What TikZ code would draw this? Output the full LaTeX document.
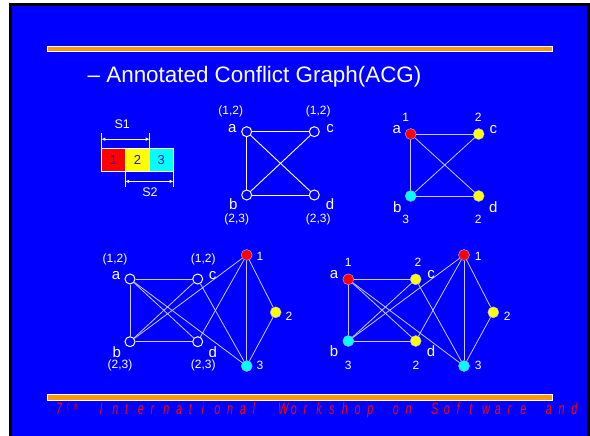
\documentclass[tikz,border=0pt]{standalone}
\usepackage{fontspec}
\setmainfont{Liberation Sans}
\usepackage{graphicx}
\usetikzlibrary{arrows.meta}
\definecolor{bg}{RGB}{0,0,255}
\definecolor{orng}{RGB}{255,153,0}
\definecolor{numblue}{RGB}{20,20,190}
\definecolor{cred}{RGB}{255,0,0}
\definecolor{cyel}{RGB}{255,255,0}
\definecolor{ccyan}{RGB}{0,255,255}
\newcommand{\ftc}[1]{\scalebox{0.66}[1]{#1}}
\begin{document}
\begin{tikzpicture}[x=1pt,y=-1pt,
  hollow/.style={circle,draw=white,line width=1pt,fill=bg,minimum size=10pt,inner sep=0pt},
  colnode/.style={circle,draw=white!70!bg,line width=0.4pt,fill=#1,minimum size=11pt,inner sep=0pt},
  lbl/.style={text=white,font=\fontsize{15}{15}\selectfont,inner sep=0pt},
  ann/.style={text=white,font=\fontsize{12}{12}\selectfont,inner sep=0pt},
  edge/.style={draw=white,line width=0.9pt},
  ledge/.style={draw=white!80!bg,line width=0.8pt},
  cbox/.style={draw=white,line width=0.8pt,fill=#1,minimum width=23.8pt,minimum height=23.4pt,inner sep=0pt,text=numblue,font=\fontsize{13}{13}\selectfont},
  foot/.style={text=cred,font=\fontsize{16.5}{16.5}\selectfont\itshape,inner sep=0pt,anchor=base west},
  footsup/.style={text=cred,font=\fontsize{9}{9}\selectfont\itshape,inner sep=0pt,anchor=base west},
  bar/.style={draw=white,line width=1pt,fill=orng}
]
\useasboundingbox (0,0) rectangle (590,436);
\fill[white] (0,0) rectangle (590,436);
\fill[black] (9,3) rectangle (590,436);
\fill[bg] (12,6) rectangle (587,436);
% bars
\path[bar] (47.5,46.5) rectangle (552,52);
\path[bar] (47.5,394.5) rectangle (552,400.3);
% title
\node[anchor=base west,text=white,font=\fontsize{22.4}{22.4}\selectfont,inner sep=0pt] (title) at (87.5,83) {– Annotated Conflict Graph(ACG)};
% colour boxes
\node[cbox=cred] (bx1) at (113.6,160) {1};
\node[cbox=cyel] (bx2) at (137.4,160) {2};
\node[cbox=ccyan] (bx3) at (161.2,160) {3};
\coordinate (s1l) at ([yshift=15pt]bx1.north west);
\coordinate (s1r) at ([yshift=15pt]bx2.north east);
\draw[white,line width=0.8pt] (bx1.north west) -- (s1l);
\draw[white,line width=0.8pt] (bx2.north east) -- (s1r);
\coordinate (s1a) at ([yshift=8.7pt]bx1.north west);
\coordinate (s1b) at ([yshift=8.7pt]bx2.north east);
\draw[white,line width=0.8pt,{Latex[length=4pt,width=3.5pt]}-{Latex[length=4pt,width=3.5pt]}] (s1a) -- (s1b);
\node[ann,font=\fontsize{12.5}{12.5}\selectfont] (s1) at (122.3,124.3) {S1};
\coordinate (s2l) at ([yshift=-14.5pt]bx2.south west);
\coordinate (s2r) at ([yshift=-14.5pt]bx3.south east);
\draw[white,line width=0.8pt] (bx2.south west) -- (s2l);
\draw[white,line width=0.8pt] (bx3.south east) -- (s2r);
\coordinate (s2a) at ([yshift=-9.3pt]bx2.south west);
\coordinate (s2b) at ([yshift=-9.3pt]bx3.south east);
\draw[white,line width=0.8pt,{Latex[length=4pt,width=3.5pt]}-{Latex[length=4pt,width=3.5pt]}] (s2a) -- (s2b);
\node[ann,font=\fontsize{12.5}{12.5}\selectfont] (s2) at (150,191.7) {S2};
% graph 1
\node[hollow] (ga) at (246.7,131.7) {};
\node[hollow] (gc) at (314.3,131.7) {};
\node[hollow] (gb) at (246.7,195) {};
\node[hollow] (gd) at (314.3,195) {};
\draw[edge] (ga) -- (gc); \draw[edge] (ga) -- (gb); \draw[edge] (gb) -- (gd);
\draw[edge] (ga) -- (gd); \draw[edge] (gc) -- (gb);
\node[lbl] (gla) at (232.3,128.3) {a};
\node[lbl] (glc) at (330,128.3) {c};
\node[lbl] (glb) at (233.3,204.3) {b};
\node[lbl] (gld) at (330,204.3) {d};
\node[ann] (gpa) at (230.7,111.7) {(1,2)};
\node[ann] (gpc) at (318.3,111.7) {(1,2)};
\node[ann] (gpb) at (236.7,219) {(2,3)};
\node[ann] (gpd) at (318.3,219) {(2,3)};
% graph 2
\node[colnode=cred] (ha) at (410.7,134) {};
\node[colnode=cyel] (hc) at (478.7,134) {};
\node[colnode=ccyan] (hb) at (410.7,196) {};
\node[colnode=cyel] (hd) at (478.7,196) {};
\draw[ledge] (ha) -- (hc); \draw[ledge] (ha) -- (hb); \draw[ledge] (hb) -- (hd);
\draw[ledge] (ha) -- (hd); \draw[ledge] (hc) -- (hb);
\node[lbl] (hla) at (396.7,129.3) {a};
\node[lbl] (hlc) at (493.3,129.3) {c};
\node[lbl] (hlb) at (397.3,207.3) {b};
\node[lbl] (hld) at (493.3,207.3) {d};
\node[ann] (hna) at (405.7,117.7) {1};
\node[ann] (hnc) at (478.3,117.7) {2};
\node[ann] (hnb) at (405.7,219) {3};
\node[ann] (hnd) at (478.3,219) {2};
% graph 3
\node[hollow] (ia) at (130,279) {};
\node[hollow] (ic) at (197.7,279) {};
\node[hollow] (ib) at (130,341.7) {};
\node[hollow] (id) at (197.7,341.7) {};
\node[colnode=cred] (i1) at (246.7,255) {};
\node[colnode=cyel] (i2) at (275.7,312.3) {};
\node[colnode=ccyan] (i3) at (246.7,366) {};
\foreach \u/\v in {ia/ic,ia/ib,ib/id,ia/id,ic/ib,ib/i1,id/i1,ia/i3,ic/i3,i1/i3,i1/i2,i2/i3}
  \draw[ledge] (\u) -- (\v);
\node[ann] (ipa) at (115,259) {(1,2)};
\node[lbl] (ila) at (116,275.7) {a};
\node[ann] (ipc) at (203.3,259) {(1,2)};
\node[lbl] (ilc) at (212.7,275.7) {c};
\node[lbl] (ilb) at (116.7,351.7) {b};
\node[ann] (ipb) at (120,365.7) {(2,3)};
\node[lbl] (ild) at (212.7,351.7) {d};
\node[ann] (ipd) at (203.3,365.7) {(2,3)};
\node[ann] (in1) at (260,256.7) {1};
\node[ann] (in2) at (289,316.7) {2};
\node[ann] (in3) at (260,365) {3};
% graph 4
\node[colnode=cred] (ja) at (348.3,279.3) {};
\node[colnode=cyel] (jc) at (415.7,279.3) {};
\node[colnode=ccyan] (jb) at (348.3,341) {};
\node[colnode=cyel] (jd) at (415.7,341) {};
\node[colnode=cred] (j1) at (464,255) {};
\node[colnode=cyel] (j2) at (493.3,312.3) {};
\node[colnode=ccyan] (j3) at (464,366) {};
\foreach \u/\v in {ja/jc,ja/jb,jb/jd,ja/jd,jc/jb,jb/j1,jd/j1,ja/j3,jc/j3,j1/j3,j1/j2,j2/j3}
  \draw[ledge] (\u) -- (\v);
\node[ann] (jna) at (348.3,262.7) {1};
\node[lbl] (jla) at (334,275) {a};
\node[ann] (jnc) at (418,262.7) {2};
\node[lbl] (jlc) at (431,275) {c};
\node[lbl] (jlb) at (334,351) {b};
\node[ann] (jnb) at (348.3,365) {3};
\node[lbl] (jld) at (431,351) {d};
\node[ann] (jnd) at (416,365) {2};
\node[ann] (jn1) at (478.3,256.7) {1};
\node[ann] (jn2) at (507.3,316.7) {2};
\node[ann] (jn3) at (478.3,365) {3};
% footer
\node[foot] (f7) at (56,414) {\ftc{7}};
\node[footsup] (ft) at (67,409.3) {\ftc{t}};
\node[footsup] (fh) at (74,409.3) {\ftc{h}};
\foreach \ch [count=\i from 0] in {I,n,t,e,r,n,a,t,i,o,n,a,l}
  \node[foot] (fa\i) at (99.5+\i*12.75,414) {\ftc{\ch}};
\foreach \ch [count=\i from 14] in {W,o,r,k,s,h,o,p}
  \node[foot] (fb\i) at (99.5+\i*12.75,414) {\ftc{\ch}};
\foreach \ch [count=\i from 23] in {o,n}
  \node[foot] (fc\i) at (99.5+\i*12.75,414) {\ftc{\ch}};
\foreach \ch [count=\i from 26] in {S,o,f,t,w,a,r,e}
  \node[foot] (fd\i) at (99.5+\i*12.75,414) {\ftc{\ch}};
\foreach \ch [count=\i from 35] in {a,n,d}
  \node[foot] (fe\i) at (99.5+\i*12.75,414) {\ftc{\ch}};
\end{tikzpicture}
\end{document}
